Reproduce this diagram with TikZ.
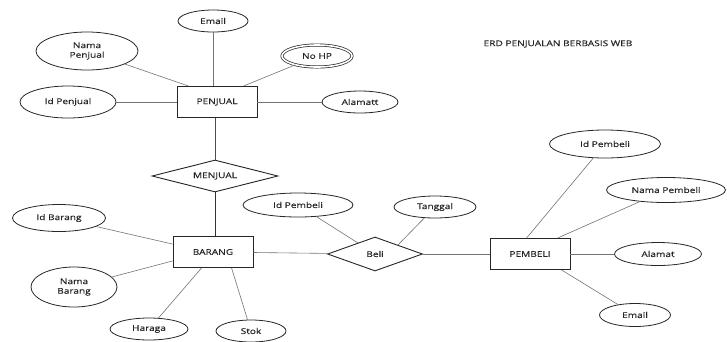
\documentclass[tikz,border=0pt]{standalone}
\usepackage{fontspec}
\setmainfont{Open Sans}[FakeStretch=1.28, FakeBold=0.4]
\usetikzlibrary{shapes.geometric,calc}
\begin{document}
\begin{tikzpicture}[x=1pt,y=-1pt,
  font=\fontsize{7.9}{9.6}\selectfont, text=black!85,
  entity/.style={draw=black!85, line width=0.9pt, minimum width=80pt, minimum height=31pt, inner sep=0pt},
  attr/.style={ellipse, draw=black!85, line width=0.8pt, inner sep=0pt, align=center},
  multi/.style={attr, double=white, double distance=1.6pt, line width=0.7pt},
  rel/.style={diamond, aspect=4, draw=black!85, line width=0.9pt, inner sep=0pt},
  link/.style={draw=black!55, line width=0.6pt}]
\useasboundingbox (0,0) rectangle (727,341);

% title
\node (title) at (558,44) {ERD PENJUALAN BERBASIS WEB};

% seller entity and its attributes
\node[entity] (penjual) at (217,102) {PENJUAL};
\node[attr, minimum width=70pt, minimum height=22pt] (email1) at (213,21) {Email};
\node[attr, minimum width=102pt, minimum height=38pt] (namapj) at (87,51) {Nama\\Penjual};
\node[multi, minimum width=70pt, minimum height=22pt] (nohp) at (317,56) {No HP};
\node[attr, minimum width=96pt, minimum height=32pt] (idpj) at (68,102) {Id Penjual};
\node[attr, minimum width=76pt, minimum height=22pt] (alamatt) at (360,102) {Alamatt};

% relationship between seller and goods
\node[rel, minimum width=126pt, minimum height=32pt] (menjual) at (215,176) {MENJUAL};

% goods entity and its attributes
\node[entity] (barang) at (213,252) {BARANG};
\node[attr, minimum width=93pt, minimum height=27pt] (idbrg) at (59,218) {Id Barang};
\node[attr, minimum width=86pt, minimum height=40pt] (nmbrg) at (74,287) {Nama\\Barang};
\node[attr, minimum width=78pt, minimum height=22pt] (haraga) at (149,329) {Haraga};
\node[attr, minimum width=70pt, minimum height=22pt] (stok) at (251,331) {Stok};

% purchase relationship
\node[rel, minimum width=95pt, minimum height=34pt] (beli) at (375,254) {Beli};
\node[attr, minimum width=110pt, minimum height=24pt] (idpb1) at (298,205) {Id Pembeli};
\node[attr, minimum width=82pt, minimum height=22pt] (tanggal) at (435,207) {Tanggal};

% buyer entity and its attributes
\node[entity] (pembeli) at (530,254) {PEMBELI};
\node[attr, minimum width=111pt, minimum height=28pt] (idpb2) at (605,144) {Id Pembeli};
\node[attr, minimum width=119pt, minimum height=25pt] (nmpb) at (666,190) {Nama Pembeli};
\node[attr, minimum width=87pt, minimum height=23pt] (alamat) at (658,254) {Alamat};
\node[attr, minimum width=71pt, minimum height=23pt] (email2) at (635,315) {Email};

% attachment points on entity borders
\coordinate (pjA) at ($(penjual.north west)+(12,0)$);
\coordinate (pjB) at ($(penjual.north east)+(-14,0)$);
\coordinate (brA) at ($(barang.north west)+(0,8)$);
\coordinate (brB) at ($(barang.south west)+(0,-7)$);
\coordinate (brC) at ($(barang.south west)+(29,0)$);
\coordinate (brD) at ($(barang.south west)+(59,0)$);
\coordinate (blA) at ($(beli.north)!0.36!(beli.west)$);
\coordinate (blB) at ($(beli.north)!0.48!(beli.east)$);
\coordinate (pbA) at ($(pembeli.north west)+(37,0)$);
\coordinate (pbB) at ($(pembeli.north west)+(68,0)$);
\coordinate (pbC) at ($(pembeli.south west)+(72,0)$);

% connectors
\draw[link] (email1.south) -- (email1.south |- penjual.north);
\draw[link] (namapj) -- (pjA);
\draw[link] (nohp) -- (pjB);
\draw[link] (idpj) -- (penjual);
\draw[link] (alamatt) -- (penjual);
\draw[link, draw=black!70, line width=0.8pt] (menjual.north) -- (menjual.north |- penjual.south);
\draw[link, draw=black!80, line width=1pt] (menjual.south) -- (menjual.south |- barang.north);
\draw[link] (idbrg) -- (brA);
\draw[link] (nmbrg) -- (brB);
\draw[link] (haraga) -- (brC);
\draw[link] (stok) -- (brD);
\draw[link] (barang) -- (beli);
\draw[link] (idpb1) -- (blA);
\draw[link] (tanggal) -- (blB);
\draw[link] (beli) -- (pembeli);
\draw[link] (idpb2) -- (pbA);
\draw[link] (nmpb) -- (pbB);
\draw[link] (alamat) -- (pembeli);
\draw[link] (email2) -- (pbC);
\end{tikzpicture}
\end{document}
